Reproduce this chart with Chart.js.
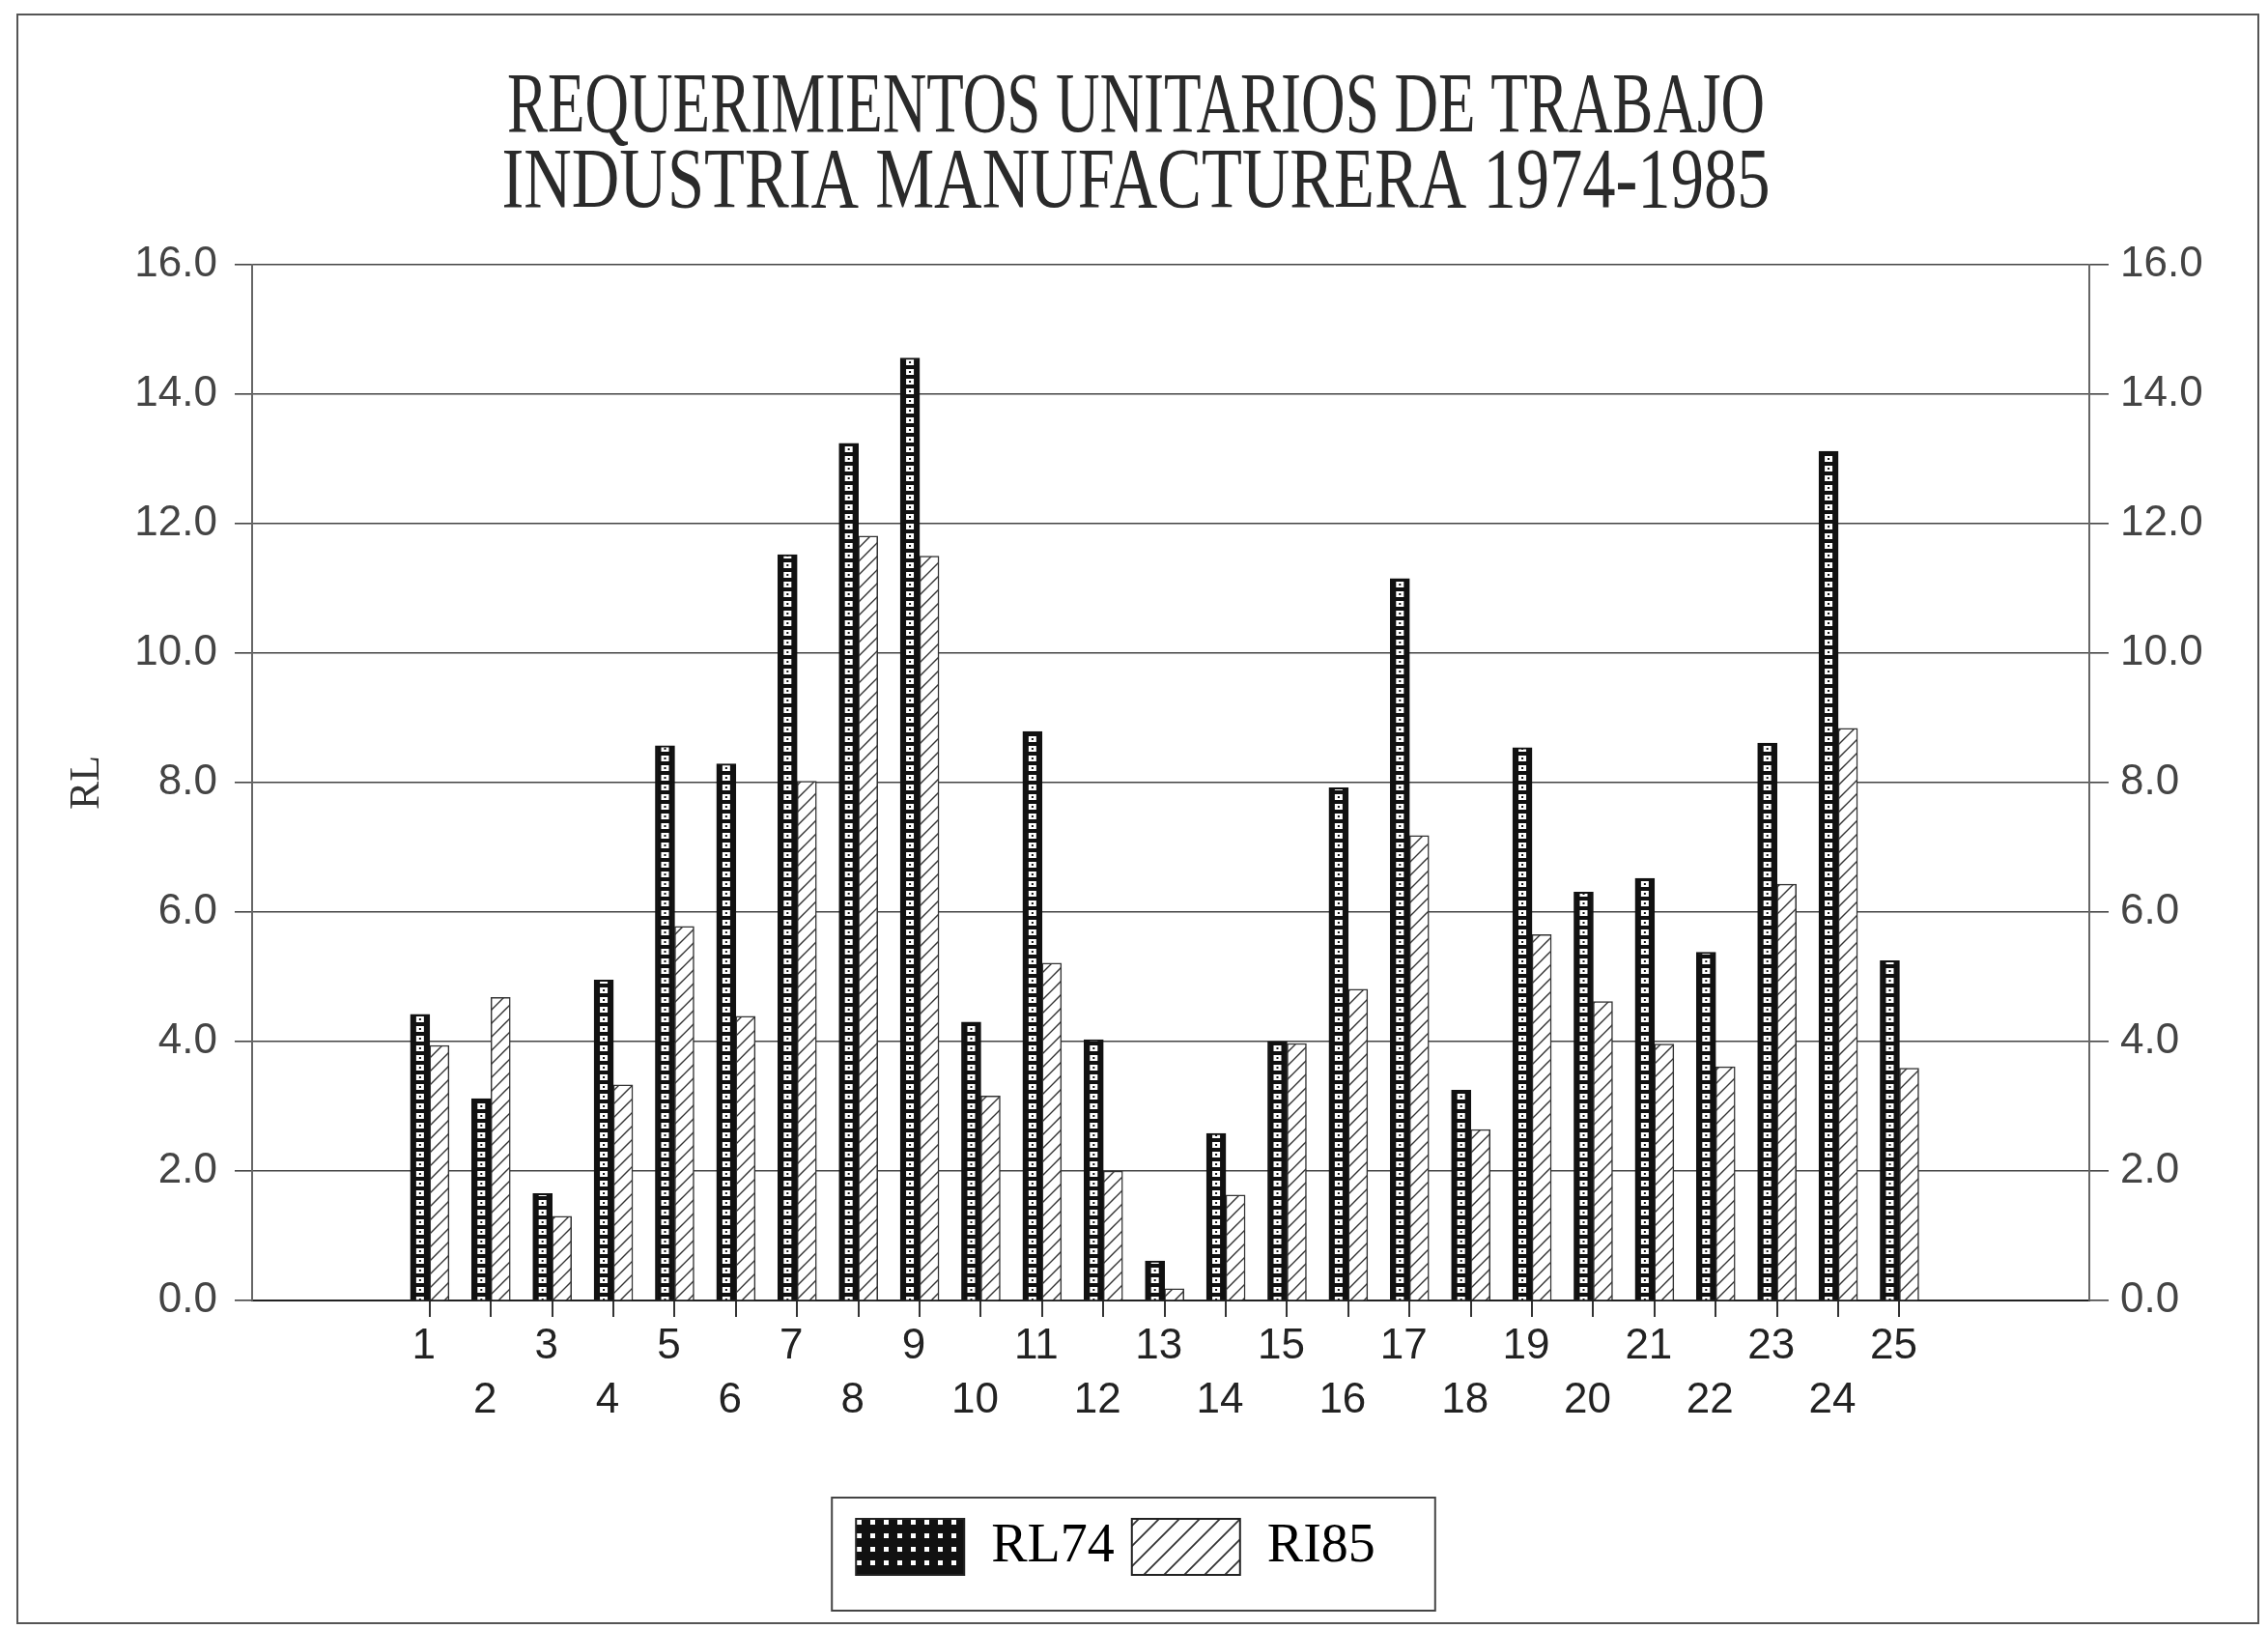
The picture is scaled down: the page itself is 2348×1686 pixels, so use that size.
<!DOCTYPE html>
<html lang="es">
<head>
  <meta charset="UTF-8">
  <title>Requerimientos unitarios de trabajo - Industria manufacturera 1974-1985</title>
  <style>
    html, body {
      margin: 0;
      padding: 0;
      background: #fff;
    }
    canvas {
      display: block;
    }
  </style>
</head>
<body>
  <canvas id="chart" width="2348" height="1686" style="width:2348px;height:1686px"></canvas>

  <script src="https://cdn.jsdelivr.net/npm/chart.js"></script>
  <script>
    // ---- data ----
    const titleLines = ["REQUERIMIENTOS UNITARIOS DE TRABAJO", "INDUSTRIA MANUFACTURERA 1974-1985"];
    const axisTitle = "RL";
    const seriesNames = ["RL74", "RI85"];
    const categories = [1, 2, 3, 4, 5, 6, 7, 8, 9, 10, 11, 12, 13, 14, 15, 16, 17, 18, 19, 20, 21, 22, 23, 24, 25];
    const rl74 = [4.42, 3.12, 1.65, 4.95, 8.57, 8.29, 11.52, 13.24, 14.56, 4.30, 8.79, 4.03, 0.61,
                  2.58, 4.00, 7.92, 11.15, 3.25, 8.54, 6.31, 6.52, 5.38, 8.61, 13.12, 5.25];
    const rl85 = [3.94, 4.68, 1.30, 3.33, 5.78, 4.39, 8.02, 11.81, 11.50, 3.16, 5.21, 2.00, 0.18,
                  1.63, 3.97, 4.81, 7.18, 2.64, 5.65, 4.62, 3.96, 3.61, 6.43, 8.84, 3.59];
    const yMin = 0, yMax = 16, yStep = 2;

    const BAR_W = 20;

    // ---- fill patterns ----
    function tile(w, h, paint) {
      const c = document.createElement("canvas");
      c.width = w;
      c.height = h;
      paint(c.getContext("2d"), w, h);
      return c;
    }

    // dark bar: black with a column of white squares
    const darkBarTile = tile(BAR_W, 10, (g, w, h) => {
      g.fillStyle = "#111";
      g.fillRect(0, 0, w, h);
      g.fillStyle = "#fff";
      g.fillRect(6, 2, 8, 6);
      g.fillStyle = "#111";
      g.fillRect(9, 4, 2, 2);
    });
    const darkLegendTile = tile(14, 14, (g, w, h) => {
      g.fillStyle = "#111";
      g.fillRect(0, 0, w, h);
      g.fillStyle = "#fff";
      g.fillRect(5, 5, 5, 5);
    });
    function hatchTile(s, lw) {
      return tile(s, s, (g) => {
        g.fillStyle = "#fff";
        g.fillRect(0, 0, s, s);
        g.strokeStyle = "#333";
        g.lineWidth = lw;
        g.beginPath();
        g.moveTo(0, s); g.lineTo(s, 0);
        g.moveTo(-2, 2); g.lineTo(2, -2);
        g.moveTo(s - 2, s + 2); g.lineTo(s + 2, s - 2);
        g.stroke();
      });
    }
    const hatchBarTile = hatchTile(14, 1.4);
    const hatchLegendTile = hatchTile(21, 1.8);

    const canvas = document.getElementById("chart");
    const ctx0 = canvas.getContext("2d");
    const legendFills = [
      ctx0.createPattern(darkLegendTile, "repeat"),
      ctx0.createPattern(hatchLegendTile, "repeat")
    ];
    const hatchFill = ctx0.createPattern(hatchBarTile, "repeat");

    function darkFill(c) {
      if (c.type !== "data") return legendFills[0];
      const xs = c.chart.scales.x;
      const left = xs.getPixelForValue(categories[c.dataIndex]) - BAR_W;
      const p = c.chart.ctx.createPattern(darkBarTile, "repeat");
      p.setTransform(new DOMMatrix().translate(left, 0));
      return p;
    }

    const yTicks = [];
    for (let v = yMin; v <= yMax; v += yStep) yTicks.push(v);

    // ---- plugins: frame, title, legend box ----
    const paperPlugin = {
      id: "paper",
      beforeDraw(chart) {
        const c = chart.ctx;
        c.save();
        c.fillStyle = "#fff";
        c.fillRect(0, 0, chart.width, chart.height);
        c.strokeStyle = "#555";
        c.lineWidth = 2;
        c.strokeRect(18, 15, 2320, 1665);
        c.restore();
      },
      afterDraw(chart) {
        const c = chart.ctx;
        c.save();
        // title, condensed serif like the plotter font
        c.fillStyle = "#2a2a2a";
        c.font = '88px "Liberation Serif", serif';
        c.textAlign = "center";
        c.textBaseline = "alphabetic";
        const widths = [1302, 1313];
        const baselines = [136, 214];
        titleLines.forEach((line, i) => {
          const w = c.measureText(line).width;
          c.save();
          c.translate(1176, baselines[i]);
          c.scale(widths[i] / w, 1);
          c.fillText(line, 0, 0);
          c.restore();
        });
        // box around the legend
        const hb = chart.legend && chart.legend.legendHitBoxes;
        if (hb && hb.length) {
          const l = Math.min(...hb.map(b => b.left)) - 25;
          const r = Math.max(...hb.map(b => b.left + b.width)) + 62;
          const t = hb[0].top - 22;
          const btm = hb[0].top + hb[0].height + 37;
          c.strokeStyle = "#444";
          c.lineWidth = 2;
          c.strokeRect(l, t, r - l, btm - t);
        }
        c.restore();
      }
    };

    const tickFont = { family: "'Liberation Sans', Arial, sans-serif", size: 44 };

    new Chart(canvas, {
      type: "bar",
      data: {
        datasets: [
          {
            label: seriesNames[0],
            data: categories.map((k, i) => ({ x: k, y: rl74[i] })),
            backgroundColor: darkFill,
            borderColor: "#111",
            borderWidth: 2,
            barThickness: BAR_W
          },
          {
            label: seriesNames[1],
            data: categories.map((k, i) => ({ x: k, y: rl85[i] })),
            backgroundColor: hatchFill,
            borderColor: "#333",
            borderWidth: 1.5,
            barThickness: BAR_W
          }
        ]
      },
      options: {
        responsive: false,
        devicePixelRatio: 1,
        animation: false,
        events: [],
        layout: {
          padding: { top: 274, left: 0, right: 38, bottom: 46 }
        },
        plugins: {
          title: { display: false },
          tooltip: { enabled: false },
          legend: {
            display: true,
            position: "bottom",
            labels: {
              boxWidth: 112,
              boxHeight: 58,
              padding: 18,
              color: "#222",
              font: { family: "'Liberation Serif', serif", size: 56 },
              generateLabels: () => seriesNames.map((name, i) => ({
                text: name,
                fillStyle: legendFills[i],
                strokeStyle: "#222",
                lineWidth: 2,
                hidden: false,
                datasetIndex: i
              }))
            }
          }
        },
        scales: {
          x: {
            type: "linear",
            position: "bottom",
            offset: false,
            weight: 1,
            min: -1.9,
            max: 28.1,
            afterBuildTicks: (s) => { s.ticks = categories.map(v => ({ value: v })); },
            afterFit: (s) => { s.height = 208; },
            grid: { display: false, drawTicks: false },
            border: { display: true, color: "#222", width: 2 },
            ticks: {
              autoSkip: false,
              maxRotation: 0,
              minRotation: 0,
              padding: 20,
              labelOffset: -6,
              color: "#222",
              font: { ...tickFont, lineHeight: 56 / 44 },
              callback: (v) => (v % 2 ? [String(v), ""] : ["", String(v)])
            }
          },
          xTicks: {
            type: "linear",
            position: "bottom",
            offset: false,
            weight: 0,
            min: -1.9,
            max: 28.1,
            afterBuildTicks: (s) => { s.ticks = categories.slice(0, -1).map(v => ({ value: v + 0.5 })); },
            afterFit: (s) => { s.height = 0; },
            grid: { display: true, drawOnChartArea: false, drawTicks: true, tickLength: 17, color: "#333", lineWidth: 2 },
            border: { display: false },
            ticks: { display: false }
          },
          y: {
            type: "linear",
            position: "left",
            min: yMin,
            max: yMax,
            afterBuildTicks: (s) => { s.ticks = yTicks.map(v => ({ value: v })); },
            afterFit: (s) => { s.width = 261; },
            grid: { color: "#444", lineWidth: 1.6, tickLength: 18, drawTicks: true },
            border: { display: true, color: "#666", width: 2 },
            ticks: {
              padding: 18,
              color: "#444",
              font: tickFont,
              callback: (v) => Number(v).toFixed(1)
            },
            title: {
              display: true,
              text: axisTitle,
              color: "#333",
              font: { family: "'Liberation Serif', serif", size: 44 },
              padding: { top: 64, bottom: 0 }
            }
          },
          y2: {
            type: "linear",
            position: "right",
            min: yMin,
            max: yMax,
            afterBuildTicks: (s) => { s.ticks = yTicks.map(v => ({ value: v })); },
            afterFit: (s) => { s.width = 2348 - 38 - 2163; },
            grid: { color: "#444", lineWidth: 1.6, tickLength: 20, drawTicks: true, drawOnChartArea: false },
            border: { display: true, color: "#666", width: 2 },
            ticks: {
              padding: 12,
              color: "#444",
              font: tickFont,
              callback: (v) => Number(v).toFixed(1)
            }
          }
        }
      },
      plugins: [paperPlugin]
    });
  </script>
</body>
</html>
